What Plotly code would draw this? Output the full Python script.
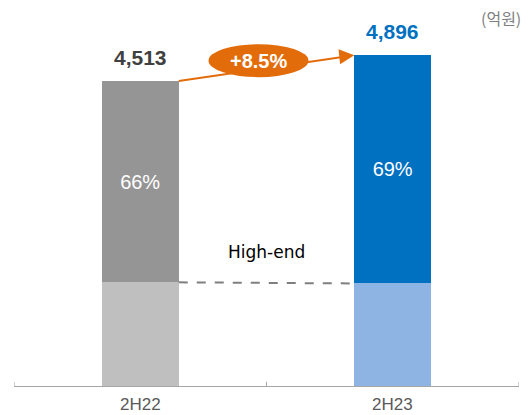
import plotly.graph_objects as go

# Sales by half-year (unit: 100 million KRW) and the high-end share of each
periods = ["2H22", "2H23"]
totals = [4513, 4896]
high_end_share = [66, 69]

high_end = [t * s / 100 for t, s in zip(totals, high_end_share)]
other = [t - h for t, h in zip(totals, high_end)]
growth = (totals[1] / totals[0] - 1) * 100

base_colors = ["#BFBFBF", "#8EB4E3"]
top_colors = ["#959595", "#0070C0"]
total_colors = ["#404040", "#0070C0"]
bar_w = 0.305

NUM_FONT = "Liberation Sans, Arial, sans-serif"
PLOT_H = 386  # plot-area height in px (figure height minus margins)

fig = go.Figure()
fig.add_trace(go.Bar(
    x=[0, 1], y=other, width=bar_w,
    marker=dict(color=base_colors, line=dict(width=0)),
    hoverinfo="skip", showlegend=False,
))
fig.add_trace(go.Bar(
    x=[0, 1], y=high_end, width=bar_w,
    marker=dict(color=top_colors, line=dict(width=0)),
    text=[f"{s}%" for s in high_end_share],
    textposition="inside", insidetextanchor="middle",
    textfont=dict(family=NUM_FONT, size=20, color="white"),
    hoverinfo="skip", showlegend=False,
))

annotations = []
# Total labels above each bar
for i, t in enumerate(totals):
    annotations.append(dict(
        x=i, y=t, xref="x", yref="y", text=f"<b>{t:,}</b>", showarrow=False,
        yanchor="bottom", yshift=10,
        font=dict(family=NUM_FONT, size=21, color=total_colors[i]),
    ))

# Category labels under the axis, sitting on the bottom edge of the figure
for i, p in enumerate(periods):
    annotations.append(dict(
        x=i, y=-29 / PLOT_H, xref="x", yref="paper", text=p, showarrow=False,
        yanchor="bottom", borderpad=0,
        font=dict(family=NUM_FONT, size=17, color="#595959"),
    ))

shapes = []
# Growth arrow between bar tops
x_start, x_end = 0 + bar_w / 2, 1 - bar_w / 2
shapes.append(dict(
    type="line", xref="x", yref="y",
    x0=x_start, y0=totals[0], x1=x_end - 0.04, y1=totals[0] + (totals[1] - totals[0]) * 0.94,
    line=dict(color="#E36C0A", width=2), layer="above",
))
annotations.append(dict(
    x=x_end, y=totals[1], xref="x", yref="y",
    ax=x_end - 0.06, ay=totals[1] - (totals[1] - totals[0]) * 0.06,
    axref="x", ayref="y", text="", showarrow=True,
    arrowhead=2, arrowsize=1.5, arrowwidth=2, arrowcolor="#E36C0A",
))
mid_y = (totals[0] + totals[1]) / 2
shapes.append(dict(
    type="circle", xref="x", yref="y",
    xsizemode="pixel", ysizemode="pixel",
    xanchor=0.5, yanchor=mid_y,
    x0=-58, x1=42, y0=-9, y1=24,
    fillcolor="#E36C0A", line=dict(width=0), layer="above",
))
annotations.append(dict(
    x=0.5, y=mid_y, xref="x", yref="y", text=f"<b>+{growth:.1f}%</b>",
    showarrow=False, xshift=-8, yshift=7.5,
    font=dict(family=NUM_FONT, size=20, color="white"),
))

# Dashed divider marking the high-end boundary
shapes.append(dict(
    type="line", xref="x", yref="y",
    x0=x_start, y0=other[0], x1=x_end, y1=other[1],
    line=dict(color="#7F7F7F", width=2, dash="dash"), layer="above",
))
annotations.append(dict(
    x=0.5, y=0.315, xref="x", yref="paper", text="High-end", showarrow=False,
    font=dict(family="DejaVu Sans, sans-serif", size=17, color="#000000"),
))

# Unit note
annotations.append(dict(
    x=1, y=1, xref="paper", yref="paper", text="(억원)", showarrow=False,
    xanchor="right", yanchor="top", xshift=4, yshift=-4,
    font=dict(family="Noto Sans CJK KR, sans-serif", size=16, color="#7F7F7F"),
))

fig.update_layout(
    width=531, height=415,
    margin=dict(l=14, r=12, t=0, b=29),
    paper_bgcolor="white", plot_bgcolor="white",
    barmode="stack",
    shapes=shapes, annotations=annotations,
    xaxis=dict(
        range=[-0.5, 1.5], showticklabels=False,
        showgrid=False, zeroline=False,
        showline=True, linecolor="#A6A6A6", linewidth=1,
        ticks="", automargin=False, fixedrange=True,
    ),
    yaxis=dict(range=[0, 5713], visible=False, fixedrange=True, automargin=False),
)

# Boundary tick marks on the category axis (pointing up)
for xb in [-0.5, 0.5, 1.5]:
    fig.add_shape(type="line", xref="x", yref="paper", x0=xb, x1=xb, y0=0, y1=0.011,
                  line=dict(color="#A6A6A6", width=1))

fig.write_html("out.html")
